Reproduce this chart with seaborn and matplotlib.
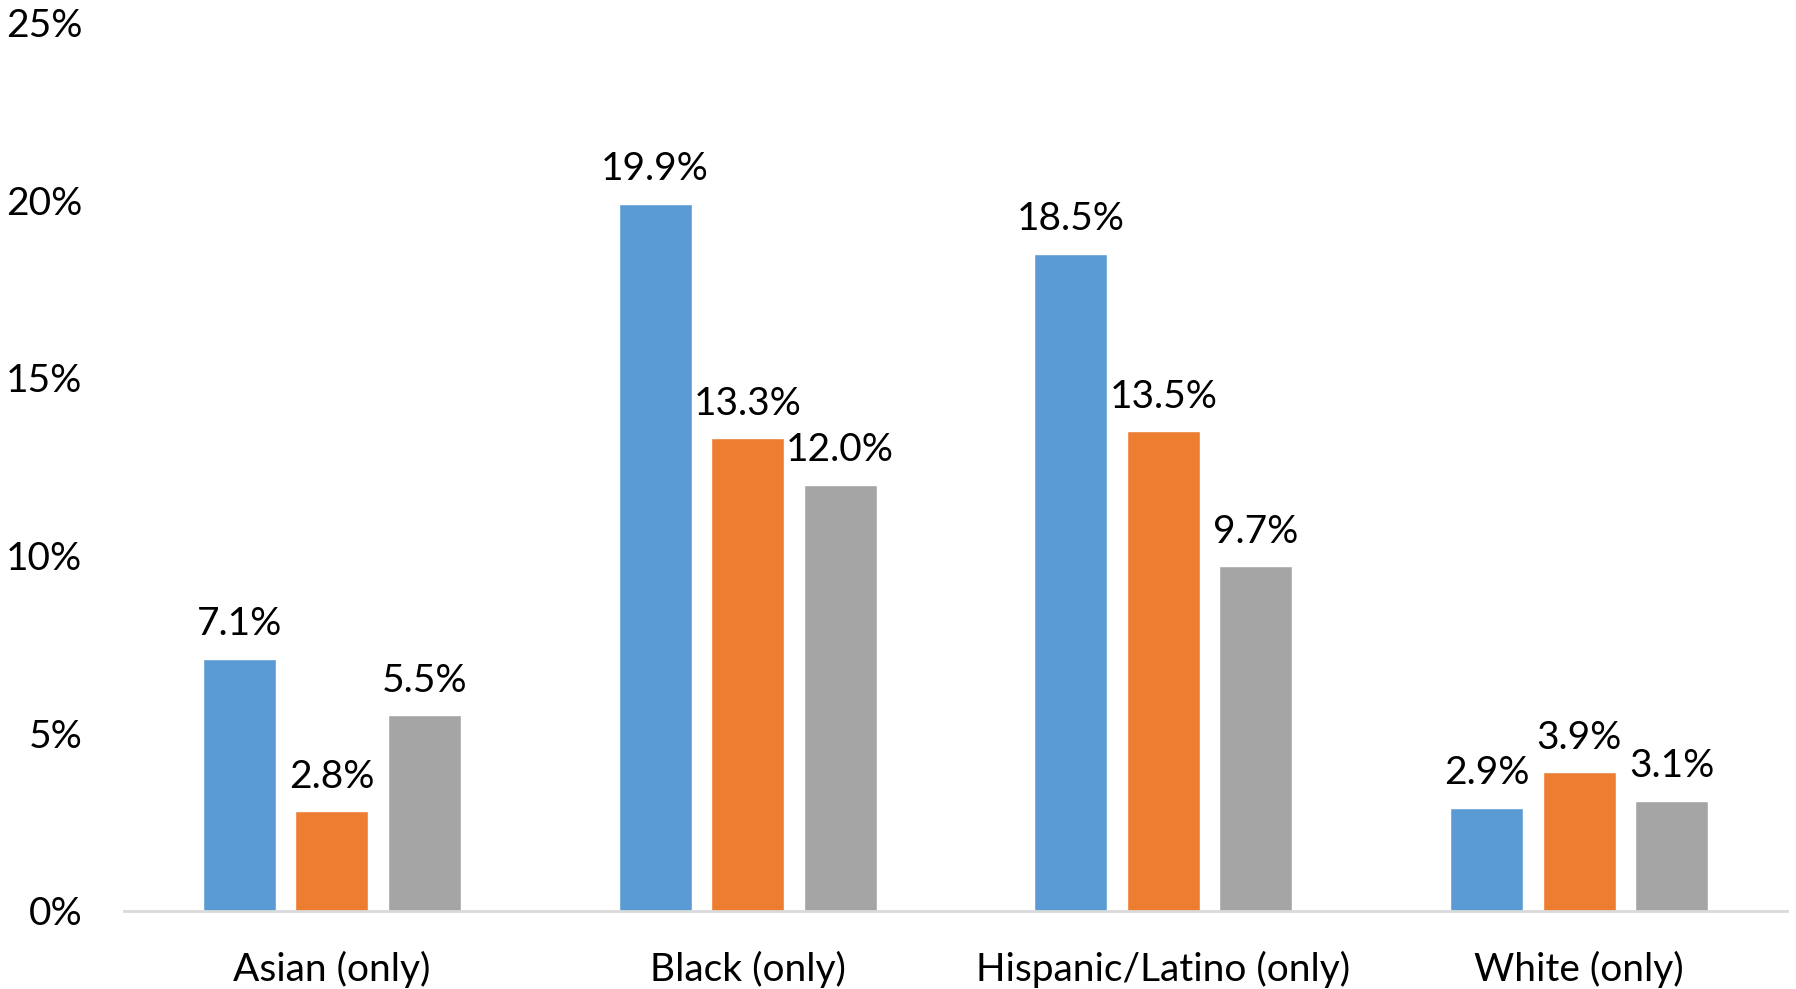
import pandas as pd
import matplotlib.pyplot as plt
import seaborn as sns

# values (percent)
groups = ["Asian (only)", "Black (only)", "Hispanic/Latino (only)", "White (only)"]
series = ["Series 1", "Series 2", "Series 3"]
series1 = [7.1, 19.9, 18.5, 2.9]
series2 = [2.8, 13.3, 13.5, 3.9]
series3 = [5.5, 12.0, 9.7, 3.1]
yticks = [0, 5, 10, 15, 20, 25]
colors = ["#5B9BD5", "#ED7D31", "#A5A5A5"]

df = pd.DataFrame({
    "group": groups * 3,
    "series": [s for s in series for _ in groups],
    "value": series1 + series2 + series3,
})

sns.set_style("white")
plt.rcParams["font.family"] = ["Lato", "DejaVu Sans"]

fig = plt.figure(figsize=(17.96, 9.89), dpi=100)
ax = fig.add_axes([0.069, 0.079, 0.926, 0.898])

sns.barplot(data=df, x="group", y="value", hue="series", order=groups,
            hue_order=series, palette=colors, width=0.6675, gap=0.21,
            saturation=1, legend=False, ax=ax)

for cont in ax.containers:
    ax.bar_label(cont, labels=[f"{v:.1f}%" for v in cont.datavalues],
                 padding=12, fontsize=28, color="black")

ax.set_ylim(0, 25)
ax.set_xlim(-0.5, 3.5)
ax.set_yticks(yticks)
ax.set_yticklabels([f"{t}%" for t in yticks])
ax.set_xlabel("")
ax.set_ylabel("")
ax.tick_params(axis="both", length=0, labelsize=28, colors="black")
ax.tick_params(axis="x", pad=29)
ax.tick_params(axis="y", pad=30)
for side in ["top", "right", "left"]:
    ax.spines[side].set_visible(False)
ax.spines["bottom"].set_color("#D9D9D9")
ax.spines["bottom"].set_linewidth(2)

fig.savefig("out.png", dpi=100)
